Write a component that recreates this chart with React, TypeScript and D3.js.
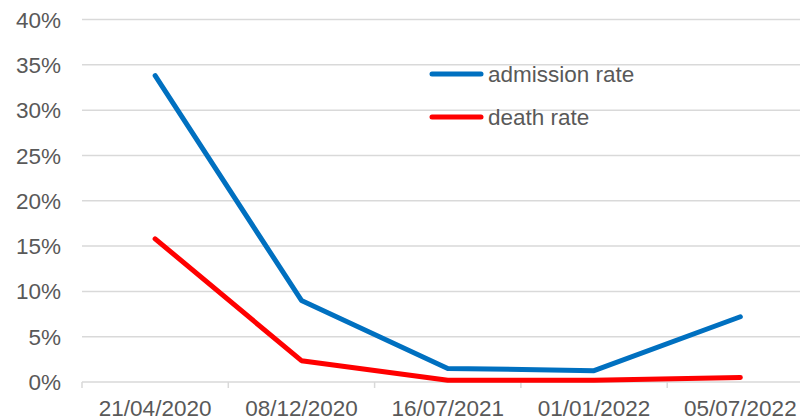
import React, { useEffect, useRef } from 'react';
import * as d3 from 'd3';

const categories = ['21/04/2020', '08/12/2020', '16/07/2021', '01/01/2022', '05/07/2022'];
const admissionRate = [0.338, 0.09, 0.015, 0.0125, 0.072];
const deathRate = [0.158, 0.0235, 0.002, 0.002, 0.005];
const yTicks = [0, 0.05, 0.1, 0.15, 0.2, 0.25, 0.3, 0.35, 0.4];

const series = [
  { name: 'admission rate', values: admissionRate, color: '#0070C0' },
  { name: 'death rate', values: deathRate, color: '#FF0000' },
];

const App: React.FC = () => {
  const svgRef = useRef<SVGSVGElement>(null);

  useEffect(() => {
    document.body.style.margin = '0';
    if (!svgRef.current) return;
    const svg = d3.select(svgRef.current);
    svg.selectAll('*').remove();

    const width = 800;
    const height = 420;
    const left = 82;
    const bandW = 146.3;
    const font = 'Liberation Sans, Arial, sans-serif';
    const fontSize = 22.5;
    const textColor = '#595959';

    const x = d3.scaleBand<string>()
      .domain(categories)
      .range([left, left + bandW * categories.length]);

    const y = d3.scaleLinear()
      .domain([0, 0.4])
      .range([382, 19.5]);

    svg.attr('width', width).attr('height', height);

    // gridlines
    svg.selectAll('.grid')
      .data(yTicks.filter(t => t > 0))
      .enter()
      .append('line')
      .attr('x1', left)
      .attr('x2', width)
      .attr('y1', d => y(d))
      .attr('y2', d => y(d))
      .attr('stroke', '#d9d9d9')
      .attr('stroke-width', 1.5);

    // y labels
    svg.selectAll('.ylab')
      .data(yTicks)
      .enter()
      .append('text')
      .attr('x', 61)
      .attr('y', d => y(d))
      .attr('dy', '0.36em')
      .attr('text-anchor', 'end')
      .attr('font-family', font)
      .attr('font-size', fontSize)
      .attr('fill', textColor)
      .text(d => d3.format('.0%')(d));

    // x axis line
    svg.append('line')
      .attr('x1', left)
      .attr('x2', width)
      .attr('y1', y(0))
      .attr('y2', y(0))
      .attr('stroke', '#d9d9d9')
      .attr('stroke-width', 1.5);

    // x tick marks at band boundaries
    const bounds = categories.map(c => x(c) as number);
    svg.selectAll('.xtick')
      .data(bounds)
      .enter()
      .append('line')
      .attr('x1', d => d)
      .attr('x2', d => d)
      .attr('y1', y(0))
      .attr('y2', y(0) + 6)
      .attr('stroke', '#d9d9d9')
      .attr('stroke-width', 1.5);

    // x labels
    svg.selectAll('.xlab')
      .data(categories)
      .enter()
      .append('text')
      .attr('x', d => (x(d) as number) + x.bandwidth() / 2)
      .attr('y', 416)
      .attr('text-anchor', 'middle')
      .attr('font-family', font)
      .attr('font-size', fontSize)
      .attr('fill', textColor)
      .text(d => d);

    const line = d3.line<number>()
      .x((_, i) => (x(categories[i]) as number) + x.bandwidth() / 2)
      .y(d => y(d));

    series.forEach(s => {
      svg.append('path')
        .datum(s.values)
        .attr('fill', 'none')
        .attr('stroke', s.color)
        .attr('stroke-width', 5)
        .attr('stroke-linecap', 'round')
        .attr('stroke-linejoin', 'round')
        .attr('d', line);
    });

    // legend
    const legend = svg.append('g');
    series.forEach((s, i) => {
      const ly = 74 + i * 43;
      legend.append('line')
        .attr('x1', 432)
        .attr('x2', 481)
        .attr('y1', ly)
        .attr('y2', ly)
        .attr('stroke', s.color)
        .attr('stroke-width', 5)
        .attr('stroke-linecap', 'round');
      legend.append('text')
        .attr('x', 488)
        .attr('y', ly)
        .attr('dy', '0.36em')
        .attr('font-family', font)
        .attr('font-size', fontSize)
        .attr('fill', textColor)
        .text(s.name);
    });
  }, []);

  return <svg ref={svgRef} style={{ display: 'block' }}></svg>;
};

export default App;
